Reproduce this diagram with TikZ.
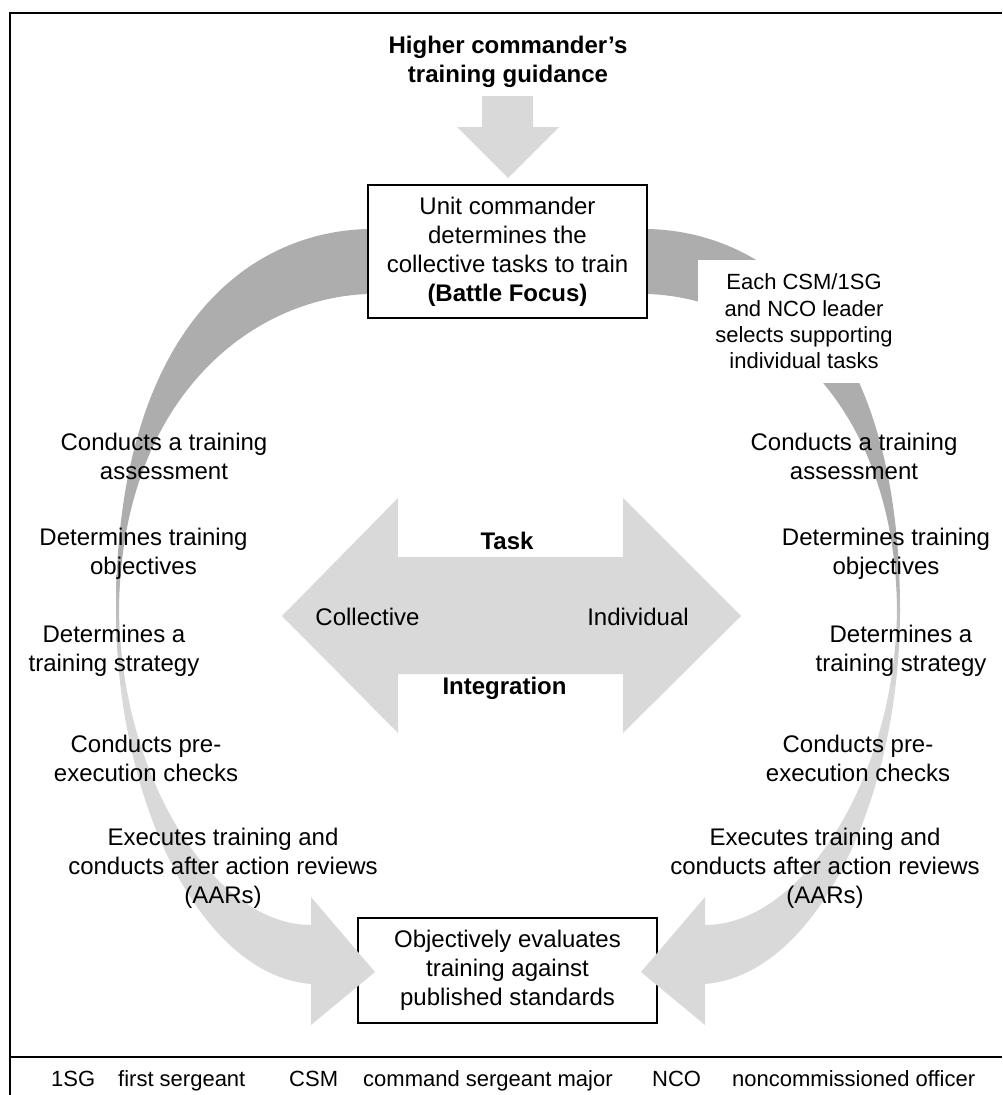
\documentclass[tikz,border=0pt]{standalone}
\usepackage{fontspec}
\setmainfont{Liberation Sans}
\definecolor{lgray}{HTML}{D9D9D9}
\definecolor{dgray}{HTML}{ADADAD}
\pgfdeclareverticalshading{arcshade}{100bp}{color(0bp)=(lgray); color(25bp)=(lgray); color(46bp)=(lgray); color(54bp)=(dgray); color(75bp)=(dgray); color(100bp)=(dgray)}
\def\arcpath{(430,226) -- (368,229) .. controls (240,232) and (116,340) .. (116,610) .. controls (116,800) and (200,975) .. (311,984) -- (311,1025) -- (375,972) -- (311,897) -- (311,925) .. controls (215,925) and (121,780) .. (119,610) .. controls (121,400) and (250,298) .. (368,294) -- (430,292) -- cycle}
\tikzset{
  lbl/.style={align=center, inner sep=0pt, anchor=north, font=\fontsize{24}{29}\selectfont},
  lblb/.style={inner sep=0pt, anchor=base, font=\bfseries\fontsize{24}{29}\selectfont},
  lbln/.style={inner sep=0pt, anchor=base, font=\fontsize{24}{29}\selectfont},
  boxnode/.style={draw, line width=1.2pt, fill=white, align=center, inner sep=0pt, font=\fontsize{24}{29}\selectfont},
  foot/.style={anchor=base west, inner sep=0pt, font=\fontsize{22}{26}\selectfont},
  framel/.style={line width=2pt},
  blockarrow/.style={fill=lgray}
}
\begin{document}
\begin{tikzpicture}[x=1pt,y=-1pt]
\useasboundingbox (0,0) rectangle (1002,1095);
% frame
\draw[framel] (10,1095) -- (10,12.5) -- (1002,12.5);
\draw[line width=2.5pt] (10,1057) -- (1002,1057);
% title and down arrow
\node[lbl, font=\bfseries\fontsize{24}{29}\selectfont] (title) at (508,35.5) {Higher commander’s\\training guidance};
\fill[blockarrow] (482,96) -- (533,96) -- (533,127) -- (559,127) -- (508,178) -- (457,127) -- (482,127) -- cycle;
% bottom box (under arrow heads)
\node[boxnode, minimum width=299pt, minimum height=105pt] (evalbox) at (507.5,970.5) {Objectively evaluates\\training against\\published standards};
% arcs
\shade[shading=arcshade] \arcpath;
\begin{scope}[xshift=1016pt, xscale=-1]
\shade[shading=arcshade] \arcpath;
\end{scope}
% central double arrow
\fill[blockarrow] (282,616) -- (398,498) -- (398,557) -- (623,557) -- (623,498) -- (741,616) -- (623,733) -- (623,674) -- (398,674) -- (398,733) -- cycle;
\node[lblb] (task) at (507,549) {Task};
\node[lblb] (integ) at (504.5,694) {Integration};
\node[lbln] (coll) at (367.5,625) {Collective};
\node[lbln] (indiv) at (638,625) {Individual};
% top box
\node[boxnode, minimum width=279pt, minimum height=133pt] (unitbox) at (507.5,251.5) {Unit commander\\determines the\\collective tasks to train\\\textbf{(Battle Focus)}};
% CSM label with white background
\node[fill=white, align=center, inner sep=0pt, minimum width=212pt, minimum height=123pt, font=\fontsize{22}{26.4}\selectfont] (csm) at (804,321.5) {Each CSM/1SG\\and NCO leader\\selects supporting\\individual tasks};
% left labels
\node[lbl] (l1) at (164,432.5) {Conducts a training\\assessment};
\node[lbl] (l2) at (143.5,527.5) {Determines training\\objectives};
\node[lbl] (l3) at (114,624.5) {Determines a\\training strategy};
\node[lbl] (l4) at (146,734.5) {Conducts pre-\\execution checks};
\node[lbl] (l5) at (223,827.5) {Executes training and\\conducts after action reviews\\(AARs)};
% right labels
\node[lbl] (r1) at (854,432.5) {Conducts a training\\assessment};
\node[lbl] (r2) at (886,527.5) {Determines training\\objectives};
\node[lbl] (r3) at (901,624.5) {Determines a\\training strategy};
\node[lbl] (r4) at (858,734.5) {Conducts pre-\\execution checks};
\node[lbl] (r5) at (825,827.5) {Executes training and\\conducts after action reviews\\(AARs)};
% footer
\node[foot] (f1) at (51,1086) {1SG};
\node[foot] (f2) at (118,1086) {first sergeant};
\node[foot] (f3) at (289,1086) {CSM};
\node[foot] (f4) at (363,1086) {command sergeant major};
\node[foot] (f5) at (652,1086) {NCO};
\node[foot] (f6) at (732,1086) {noncommissioned officer};
\end{tikzpicture}
\end{document}
